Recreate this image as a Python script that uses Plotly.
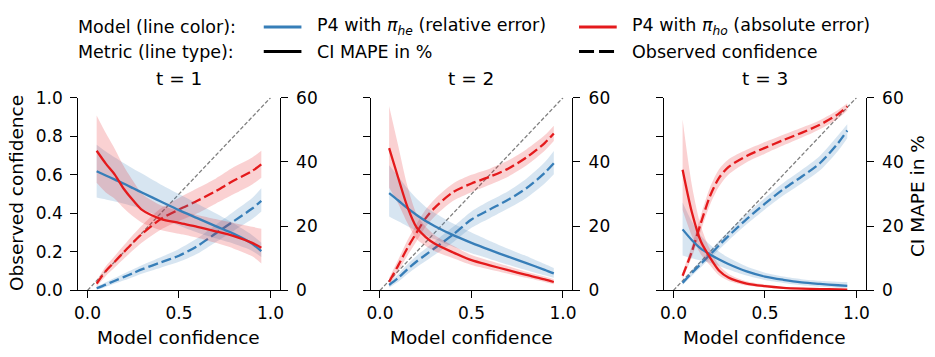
import plotly.graph_objects as go

# ---------------- data ----------------
conf = [0.05, 0.10, 0.15, 0.20, 0.25, 0.30, 0.40, 0.50, 0.60, 0.70, 0.80, 0.90, 0.95]
panel_titles = ["t = 1", "t = 2", "t = 3"]
diag = [0.0, 1.0]

# t = 1
t1_rel_mape = [37.1, 35.8, 34.5, 33.2, 31.8, 30.4, 27.7, 25.0, 22.5, 20.0, 17.6, 14.5, 12.2]
t1_rel_mape_lo = [28.9, 28.3, 27.7, 27.0, 26.2, 25.3, 22.8, 20.2, 18.0, 16.2, 14.5, 12.3, 10.4]
t1_rel_mape_hi = [45.4, 43.3, 41.4, 39.6, 37.9, 36.3, 33.0, 30.0, 27.0, 24.0, 20.8, 17.2, 14.8]
t1_abs_mape = [43.5, 39.5, 36.0, 31.5, 28.0, 25.0, 22.3, 21.0, 19.8, 18.4, 16.9, 14.8, 13.3]
t1_abs_mape_lo = [33.5, 30.5, 28.5, 25.5, 23.0, 21.0, 18.8, 17.6, 16.4, 14.8, 13.0, 10.6, 8.4]
t1_abs_mape_hi = [54.5, 49.0, 44.0, 38.5, 34.0, 30.0, 26.5, 24.8, 23.5, 22.2, 21.0, 19.8, 19.2]
t1_rel_obs = [0.011, 0.03, 0.05, 0.07, 0.09, 0.11, 0.145, 0.18, 0.23, 0.295, 0.36, 0.425, 0.465]
t1_rel_obs_lo = [0.003, 0.018, 0.035, 0.052, 0.07, 0.088, 0.118, 0.148, 0.19, 0.25, 0.31, 0.37, 0.41]
t1_rel_obs_hi = [0.02, 0.042, 0.065, 0.088, 0.11, 0.132, 0.172, 0.215, 0.27, 0.34, 0.41, 0.48, 0.53]
t1_abs_obs = [0.035, 0.10, 0.15, 0.20, 0.25, 0.295, 0.37, 0.42, 0.465, 0.515, 0.57, 0.62, 0.655]
t1_abs_obs_lo = [0.02, 0.075, 0.12, 0.165, 0.21, 0.25, 0.315, 0.36, 0.40, 0.45, 0.50, 0.55, 0.585]
t1_abs_obs_hi = [0.05, 0.125, 0.18, 0.235, 0.29, 0.34, 0.425, 0.48, 0.53, 0.58, 0.64, 0.69, 0.725]

# t = 2
t2_rel_mape = [30.3, 28.0, 25.6, 23.5, 21.6, 20.0, 17.2, 14.8, 12.6, 10.5, 8.5, 6.4, 5.3]
t2_rel_mape_lo = [23.0, 21.5, 20.0, 18.6, 17.2, 15.9, 13.6, 11.6, 9.8, 8.0, 6.3, 4.7, 3.9]
t2_rel_mape_hi = [39.0, 35.5, 31.8, 28.6, 26.0, 24.1, 20.8, 18.0, 15.4, 13.0, 10.7, 8.2, 7.0]
t2_abs_mape = [44.3, 35.0, 26.0, 19.6, 16.6, 14.5, 11.8, 9.4, 7.8, 6.3, 4.8, 3.4, 2.6]
t2_abs_mape_lo = [32.0, 27.0, 21.0, 16.0, 13.8, 12.2, 10.0, 7.9, 6.5, 5.2, 3.9, 2.6, 1.9]
t2_abs_mape_hi = [57.4, 45.0, 32.5, 23.8, 19.8, 17.2, 13.9, 11.0, 9.2, 7.5, 5.8, 4.3, 3.5]
t2_rel_obs = [0.028, 0.065, 0.11, 0.15, 0.185, 0.22, 0.29, 0.368, 0.42, 0.47, 0.53, 0.61, 0.66]
t2_rel_obs_lo = [0.015, 0.045, 0.085, 0.12, 0.152, 0.185, 0.25, 0.325, 0.375, 0.425, 0.48, 0.555, 0.603]
t2_rel_obs_hi = [0.04, 0.085, 0.135, 0.18, 0.218, 0.255, 0.33, 0.41, 0.465, 0.515, 0.58, 0.665, 0.724]
t2_abs_obs = [0.045, 0.13, 0.22, 0.30, 0.375, 0.43, 0.51, 0.555, 0.59, 0.632, 0.69, 0.765, 0.815]
t2_abs_obs_lo = [0.025, 0.10, 0.18, 0.255, 0.33, 0.385, 0.465, 0.51, 0.548, 0.59, 0.648, 0.725, 0.775]
t2_abs_obs_hi = [0.065, 0.16, 0.26, 0.345, 0.42, 0.475, 0.555, 0.60, 0.632, 0.674, 0.732, 0.805, 0.855]

# t = 3
t3_rel_mape = [19.0, 15.7, 13.0, 11.2, 9.6, 8.2, 5.9, 4.3, 3.3, 2.5, 2.0, 1.6, 1.4]
t3_rel_mape_lo = [10.9, 10.0, 9.3, 8.6, 7.6, 6.5, 4.6, 3.2, 2.3, 1.6, 1.1, 0.8, 0.7]
t3_rel_mape_hi = [27.4, 21.5, 17.0, 14.2, 12.0, 10.2, 7.4, 5.5, 4.3, 3.5, 3.0, 2.7, 2.6]
t3_abs_mape = [37.6, 24.5, 15.2, 10.2, 6.1, 4.0, 2.1, 1.3, 0.8, 0.55, 0.4, 0.3, 0.25]
t3_abs_mape_lo = [25.0, 17.0, 11.2, 7.8, 4.6, 3.0, 1.5, 0.9, 0.5, 0.3, 0.2, 0.12, 0.1]
t3_abs_mape_hi = [53.2, 33.0, 20.0, 12.8, 7.8, 5.2, 2.8, 1.8, 1.1, 0.8, 0.6, 0.5, 0.45]
t3_rel_obs = [0.039, 0.09, 0.138, 0.185, 0.235, 0.282, 0.37, 0.45, 0.525, 0.59, 0.66, 0.765, 0.83]
t3_rel_obs_lo = [0.028, 0.075, 0.12, 0.165, 0.212, 0.258, 0.343, 0.42, 0.492, 0.555, 0.622, 0.725, 0.79]
t3_rel_obs_hi = [0.05, 0.105, 0.155, 0.205, 0.258, 0.306, 0.397, 0.48, 0.558, 0.625, 0.698, 0.805, 0.862]
t3_abs_obs = [0.076, 0.20, 0.35, 0.49, 0.585, 0.64, 0.698, 0.74, 0.78, 0.818, 0.86, 0.915, 0.955]
t3_abs_obs_lo = [0.06, 0.17, 0.31, 0.445, 0.54, 0.60, 0.665, 0.71, 0.752, 0.792, 0.836, 0.893, 0.934]
t3_abs_obs_hi = [0.095, 0.23, 0.39, 0.535, 0.63, 0.68, 0.73, 0.77, 0.808, 0.845, 0.884, 0.937, 0.972]

panels = [
    dict(rel_mape=(t1_rel_mape, t1_rel_mape_lo, t1_rel_mape_hi), abs_mape=(t1_abs_mape, t1_abs_mape_lo, t1_abs_mape_hi),
         rel_obs=(t1_rel_obs, t1_rel_obs_lo, t1_rel_obs_hi), abs_obs=(t1_abs_obs, t1_abs_obs_lo, t1_abs_obs_hi)),
    dict(rel_mape=(t2_rel_mape, t2_rel_mape_lo, t2_rel_mape_hi), abs_mape=(t2_abs_mape, t2_abs_mape_lo, t2_abs_mape_hi),
         rel_obs=(t2_rel_obs, t2_rel_obs_lo, t2_rel_obs_hi), abs_obs=(t2_abs_obs, t2_abs_obs_lo, t2_abs_obs_hi)),
    dict(rel_mape=(t3_rel_mape, t3_rel_mape_lo, t3_rel_mape_hi), abs_mape=(t3_abs_mape, t3_abs_mape_lo, t3_abs_mape_hi),
         rel_obs=(t3_rel_obs, t3_rel_obs_lo, t3_rel_obs_hi), abs_obs=(t3_abs_obs, t3_abs_obs_lo, t3_abs_obs_hi)),
]

# ---------------- style ----------------
W, H = 935, 357
BLUE = "#377eb8"
RED = "#e41a1c"
BLUE_FILL = "rgba(55,126,184,0.2)"
RED_FILL = "rgba(228,26,28,0.2)"
FONT = "DejaVu Sans"
LW = 2.3
DASH = "10px,4px"

x_px = [(75, 278), (370, 573), (666, 869)]
y_top, y_bot = 93, 297
ydom = [1 - y_bot / H, 1 - y_top / H]

fig = go.Figure()


def add_band(xname, yname, lo, hi, fill):
    fig.add_trace(go.Scatter(x=conf, y=lo, xaxis=xname, yaxis=yname, mode="lines",
                             line=dict(width=0, shape="spline", smoothing=0.8), showlegend=False, hoverinfo="skip"))
    fig.add_trace(go.Scatter(x=conf, y=hi, xaxis=xname, yaxis=yname, mode="lines", fill="tonexty",
                             fillcolor=fill, line=dict(width=0, shape="spline", smoothing=0.8),
                             showlegend=False, hoverinfo="skip"))


def add_line(xname, yname, y, color, dash):
    fig.add_trace(go.Scatter(x=conf, y=y, xaxis=xname, yaxis=yname, mode="lines",
                             line=dict(color=color, width=LW, dash=dash, shape="spline", smoothing=0.8),
                             showlegend=False))


for i, p in enumerate(panels):
    xn = "x" if i == 0 else f"x{i+1}"
    yl = "y" if i == 0 else f"y{2*i+1}"
    yr = f"y{2*i+2}"
    # diagonal
    fig.add_trace(go.Scatter(x=diag, y=diag, xaxis=xn, yaxis=yl, mode="lines",
                             line=dict(color="#808080", width=1.3, dash="4px,2px"), showlegend=False))
    # observed confidence (left axis)
    add_band(xn, yl, p["rel_obs"][1], p["rel_obs"][2], BLUE_FILL)
    add_band(xn, yl, p["abs_obs"][1], p["abs_obs"][2], RED_FILL)
    add_line(xn, yl, p["rel_obs"][0], BLUE, DASH)
    add_line(xn, yl, p["abs_obs"][0], RED, DASH)
    # CI MAPE (right axis)
    add_band(xn, yr, p["rel_mape"][1], p["rel_mape"][2], BLUE_FILL)
    add_band(xn, yr, p["abs_mape"][1], p["abs_mape"][2], RED_FILL)
    add_line(xn, yr, p["rel_mape"][0], BLUE, "solid")
    add_line(xn, yr, p["abs_mape"][0], RED, "solid")

axis_common = dict(showline=True, linecolor="black", linewidth=1.2, ticks="outside", ticklen=7,
                   tickwidth=1.2, tickcolor="black", showgrid=False, zeroline=False,
                   tickfont=dict(family=FONT, size=17, color="black"))

layout = dict(width=W, height=H, margin=dict(l=0, r=0, t=0, b=0), paper_bgcolor="white",
              plot_bgcolor="white", showlegend=False, font=dict(family=FONT, color="black"))

annotations = []
for i in range(3):
    xk = "xaxis" if i == 0 else f"xaxis{i+1}"
    ylk = "yaxis" if i == 0 else f"yaxis{2*i+1}"
    yrk = f"yaxis{2*i+2}"
    yl = "y" if i == 0 else f"y{2*i+1}"
    xn = "x" if i == 0 else f"x{i+1}"
    x0, x1 = x_px[i]
    layout[xk] = dict(axis_common, domain=[x0 / W, x1 / W], range=[-0.05, 1.05], anchor=yl,
                      tickvals=[0, 0.5, 1.0], ticktext=["0.0", "0.5", "1.0"])
    layout[ylk] = dict(axis_common, domain=ydom, range=[0, 1], anchor=xn, side="left",
                       tickvals=[0, 0.2, 0.4, 0.6, 0.8, 1.0],
                       ticktext=["0.0", "0.2", "0.4", "0.6", "0.8", "1.0"],
                       showticklabels=(i == 0), ticklabelstandoff=4)
    layout[yrk] = dict(axis_common, overlaying=yl, range=[0, 60], anchor=xn, side="right",
                       tickvals=[0, 20, 40, 60], ticktext=["0", "20", "40", "60"], ticklabelstandoff=5)
    cx = (x0 + x1) / 2 / W
    annotations.append(dict(text=panel_titles[i], x=cx, y=1 - 73 / H, xref="paper", yref="paper",
                            xanchor="center", yanchor="middle",
                            showarrow=False, font=dict(family=FONT, size=18.5, color="black")))
    annotations.append(dict(text="Model confidence", x=cx, y=1 - 347 / H, xref="paper", yref="paper",
                            xanchor="center", yanchor="middle",
                            showarrow=False, font=dict(family=FONT, size=18.5, color="black")))

annotations.append(dict(text="Observed confidence", x=12 / W, y=1 - 194 / H, xref="paper", yref="paper",
                        xanchor="center", yanchor="middle",
                        textangle=-90, showarrow=False, font=dict(family=FONT, size=18.5, color="black")))
annotations.append(dict(text="CI MAPE in %", x=922 / W, y=1 - 197 / H, xref="paper", yref="paper",
                        xanchor="center", yanchor="middle",
                        textangle=-90, showarrow=False, font=dict(family=FONT, size=18.5, color="black")))

# legend (built from text + line samples)
leg_font = dict(family=FONT, size=17.5, color="black")
row1, row2 = 1 - 18 / H, 1 - 44 / H
leg_texts = [
    ("Model (line color):", 73, row1),
    ("P4 with <i>π</i><sub><i>he</i></sub> (relative error)", 314, row1),
    ("P4 with <i>π</i><sub><i>ho</i></sub> (absolute error)", 631, row1),
    ("Metric (line type):", 73, row2),
    ("CI MAPE in %", 314, row2),
    ("Observed confidence", 631, row2),
]
for t, xp, yp in leg_texts:
    annotations.append(dict(text=t, x=xp / W, y=yp, xref="paper", yref="paper", xanchor="left",
                            yanchor="middle", showarrow=False, font=leg_font))

shapes = []
leg_lines = [
    (262, 300, row1, BLUE, "solid"),
    (580, 618, row1, RED, "solid"),
    (262, 300, row2, "black", "solid"),
    (580, 618, row2, "black", "15px,5px"),
]
for a, b, yp, c, d in leg_lines:
    shapes.append(dict(type="line", xref="paper", yref="paper", x0=a / W, x1=b / W, y0=yp, y1=yp,
                       line=dict(color=c, width=3, dash=d)))

layout["annotations"] = annotations
layout["shapes"] = shapes
fig.update_layout(**layout)

fig.write_html("out.html")
